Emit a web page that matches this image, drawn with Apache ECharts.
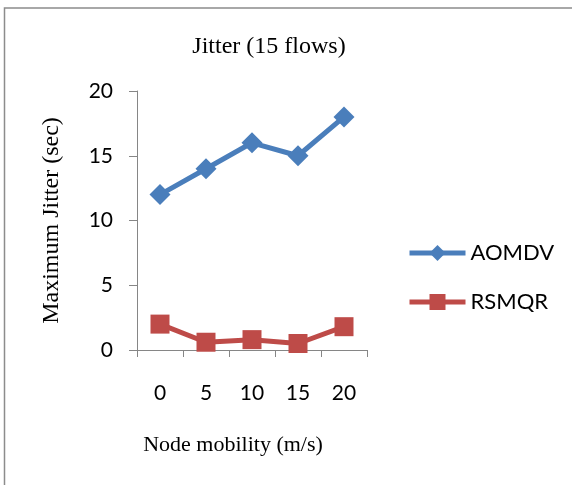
<!DOCTYPE html>
<html>
<head>
<meta charset="utf-8">
<script src="https://cdn.jsdelivr.net/npm/echarts@6/dist/echarts.min.js"></script>
<style>
  html, body { margin: 0; padding: 0; background: #fff; }
  #chart { width: 572px; height: 485px; }
</style>
</head>
<body>
<div id="chart"></div>
<script>
const categories = ['0', '5', '10', '15', '20']
const aomdv = [12, 14, 16, 15, 18]
const rsmqr = [2, 0.6, 0.8, 0.5, 1.8]

const serif = 'Liberation Serif'
const sans = 'Lato'
const axisGray = '#868686'

const chart = echarts.init(document.getElementById('chart'))

chart.setOption({
  animation: false,
  backgroundColor: '#fff',
  title: [
    {
      text: 'Jitter (15 flows)',
      left: 264,
      top: 30,
      textAlign: 'center',
      textStyle: { fontFamily: serif, fontSize: 24, fontWeight: 'normal', color: '#000' },
    },
    {
      text: 'Node mobility (m/s)',
      left: 228,
      top: 429,
      textAlign: 'center',
      textStyle: { fontFamily: serif, fontSize: 22, fontWeight: 'normal', color: '#000' },
    },
  ],
  graphic: [{
    type: 'rect',
    shape: { x: 4.5, y: 8, width: 800, height: 800 },
    style: { fill: 'none', stroke: '#8c8c8c', lineWidth: 1.5 },
    silent: true,
  }],
  legend: {
    orient: 'vertical',
    left: 402,
    top: 237,
    itemWidth: 56,
    itemHeight: 20,
    itemGap: 27,
    lineStyle: { width: 5 },
    textStyle: { fontFamily: sans, fontSize: 22, color: '#000' },
    data: ['AOMDV', 'RSMQR'],
  },
  grid: { left: 137, top: 91, width: 230, height: 259 },
  xAxis: {
    type: 'category',
    data: categories,
    boundaryGap: true,
    axisLine: { lineStyle: { color: axisGray, width: 1 } },
    axisTick: { show: true, length: 7, lineStyle: { color: axisGray } },
    axisLabel: { margin: 33, fontFamily: sans, fontSize: 21, color: '#000' },
    splitLine: { show: false },
  },
  yAxis: {
    type: 'value',
    min: 0,
    max: 20,
    interval: 5,
    name: 'Maximum Jitter (sec)',
    nameLocation: 'middle',
    nameGap: 73,
    nameTextStyle: { fontFamily: serif, fontSize: 24, color: '#000' },
    axisLine: { show: true, lineStyle: { color: axisGray, width: 1 } },
    axisTick: { show: true, length: 8, lineStyle: { color: axisGray } },
    axisLabel: { margin: 24, fontFamily: sans, fontSize: 21, color: '#000' },
    splitLine: { show: false },
  },
  series: [
    {
      name: 'AOMDV',
      type: 'line',
      data: aomdv,
      symbol: 'diamond',
      symbolSize: 21,
      lineStyle: { color: '#4A7EBB', width: 5 },
      itemStyle: { color: '#4A7EBB' },
    },
    {
      name: 'RSMQR',
      type: 'line',
      data: rsmqr,
      symbol: 'rect',
      symbolSize: 19,
      lineStyle: { color: '#BE4B48', width: 5 },
      itemStyle: { color: '#BE4B48' },
    },
  ],
})

window.addEventListener('resize', () => chart.resize())
</script>
</body>
</html>
